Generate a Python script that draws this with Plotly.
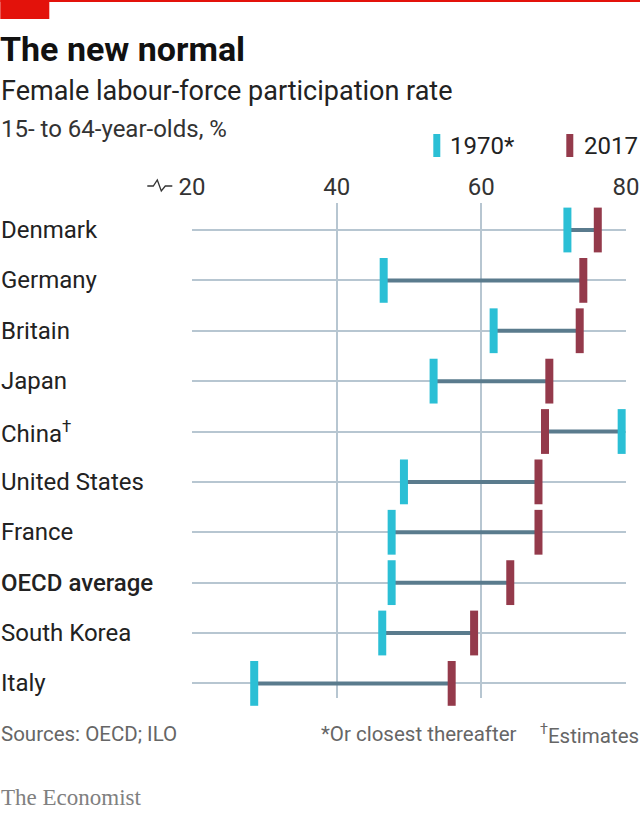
import plotly.graph_objects as go

# data
countries = ["Denmark", "Germany", "Britain", "Japan", "China†", "United States",
             "France", "OECD average", "South Korea", "Italy"]
y1970 = [71.9, 46.5, 61.7, 53.4, 79.4, 49.3, 47.6, 47.6, 46.3, 28.6]
y2017 = [76.1, 74.1, 73.6, 69.4, 68.8, 67.9, 67.9, 64.0, 59.0, 55.9]
xticks = [20, 40, 60, 80]

W, H = 640, 814
L, R, T, B = 191.7, 625.7, 203, 698  # plot area in pixels


def px(x):
    return (x - L) / (R - L)


def py(y):
    return (B - y) / (B - T)


CYAN = "#2bbfd5"
RED = "#943a4b"
LINK = "#5a7b8d"
GRID = "#b7c6d1"
FONT = "Roboto"

idx = list(range(len(countries)))

# connectors, one trace with gaps
lx, ly = [], []
for i in idx:
    lx += [y1970[i], y2017[i], None]
    ly += [i, i, None]

fig = go.Figure()
fig.add_trace(go.Scatter(x=lx, y=ly, mode="lines", line=dict(color=LINK, width=4),
                         hoverinfo="skip", showlegend=False))
fig.add_trace(go.Scatter(x=y1970, y=idx, mode="markers", name="1970*",
                         marker=dict(symbol="line-ns", size=32,
                                     line=dict(color=CYAN, width=8)),
                         cliponaxis=False, showlegend=False))
fig.add_trace(go.Scatter(x=y2017, y=idx, mode="markers", name="2017",
                         marker=dict(symbol="line-ns", size=32,
                                     line=dict(color=RED, width=8)),
                         cliponaxis=False, showlegend=False))

ann = []
# country labels, left aligned
for i, c in enumerate(countries):
    txt = c.replace("†", "<sup>†</sup>")
    ann.append(dict(x=px(-1), xref="paper", y=i, yref="y", text=txt,
                    xanchor="left", yanchor="middle", showarrow=False,
                    font=dict(family=FONT, size=24, color="#222",
                              weight=500 if c == "OECD average" else 400)))

ann += [
    dict(x=px(-2), y=py(49), text="<b>The new normal</b>", xanchor="left",
         yanchor="middle", font=dict(family=FONT, size=34, color="#111")),
    dict(x=px(-1.5), y=py(91), text="Female labour-force participation rate",
         xanchor="left", yanchor="middle", font=dict(family=FONT, size=27, color="#222")),
    dict(x=px(-1.5), y=py(129), text="15- to 64-year-olds, %", xanchor="left",
         yanchor="middle", font=dict(family=FONT, size=24, color="#333")),
    dict(x=px(448), y=py(146), text="1970*", xanchor="left", yanchor="middle",
         font=dict(family=FONT, size=24, color="#222")),
    dict(x=px(582), y=py(146), text="2017", xanchor="left", yanchor="middle",
         font=dict(family=FONT, size=24, color="#222")),
    dict(x=px(-1), y=py(734), text="Sources: OECD; ILO", xanchor="left",
         yanchor="middle", font=dict(family=FONT, size=20.5, color="#666")),
    dict(x=px(519), y=py(734), text="*Or closest thereafter", xanchor="right",
         yanchor="middle", font=dict(family=FONT, size=20.5, color="#666")),
    dict(x=px(641), y=py(734), text="<sup>†</sup>Estimates", xanchor="right",
         yanchor="middle", font=dict(family=FONT, size=20.5, color="#666")),
    dict(x=px(-1), y=py(797), text="The Economist", xanchor="left", yanchor="middle",
         font=dict(family="Liberation Serif", size=23, color="#808080")),
]
for a in ann[len(countries):]:
    a.update(xref="paper", yref="paper", showarrow=False)

shapes = [
    dict(type="rect", xref="paper", yref="paper", x0=px(0), x1=px(49),
         y0=py(0), y1=py(19), fillcolor="#e3120b", line_width=0),
    dict(type="line", xref="paper", yref="paper", x0=px(0), x1=px(640),
         y0=py(1), y1=py(1), line=dict(color="#e3120b", width=2)),
    dict(type="rect", xref="paper", yref="paper", x0=px(433), x1=px(440),
         y0=py(134), y1=py(157), fillcolor=CYAN, line_width=0),
    dict(type="rect", xref="paper", yref="paper", x0=px(566), x1=px(573),
         y0=py(134), y1=py(157), fillcolor=RED, line_width=0),
    # axis-break squiggle next to 20
    dict(type="path", xref="paper", yref="paper",
         path="M {} {} L {} {} L {} {} L {} {} L {} {} L {} {}".format(
             px(147), py(186), px(153), py(186), px(157), py(180),
             px(161), py(191), px(165), py(186), px(172), py(186)),
         line=dict(color="#333", width=1.3)),
]

fig.update_layout(
    width=W, height=H, autosize=False,
    margin=dict(l=L, r=W - R, t=T, b=H - B, pad=0, autoexpand=False),
    paper_bgcolor="white", plot_bgcolor="white",
    annotations=ann, shapes=shapes,
    xaxis=dict(range=[20, 80], tickvals=xticks, side="top", showgrid=True,
               gridcolor=GRID, gridwidth=1.5, zeroline=False, showline=False,
               ticks="", ticklabelstandoff=2, automargin=False,
               tickfont=dict(family=FONT, size=24, color="#333")),
    yaxis=dict(range=[9.29, -0.536], tickvals=idx, showticklabels=False,
               showgrid=True, gridcolor=GRID, gridwidth=1.5, zeroline=False,
               showline=False, ticks="", automargin=False),
)

# drop the default page margin so the chart sits at the window's corner
post = ("document.body.style.margin='0';"
        "document.body.style.overflow='hidden';")
fig.write_html("out.html", post_script=post,
               config={"responsive": False, "displayModeBar": False})
